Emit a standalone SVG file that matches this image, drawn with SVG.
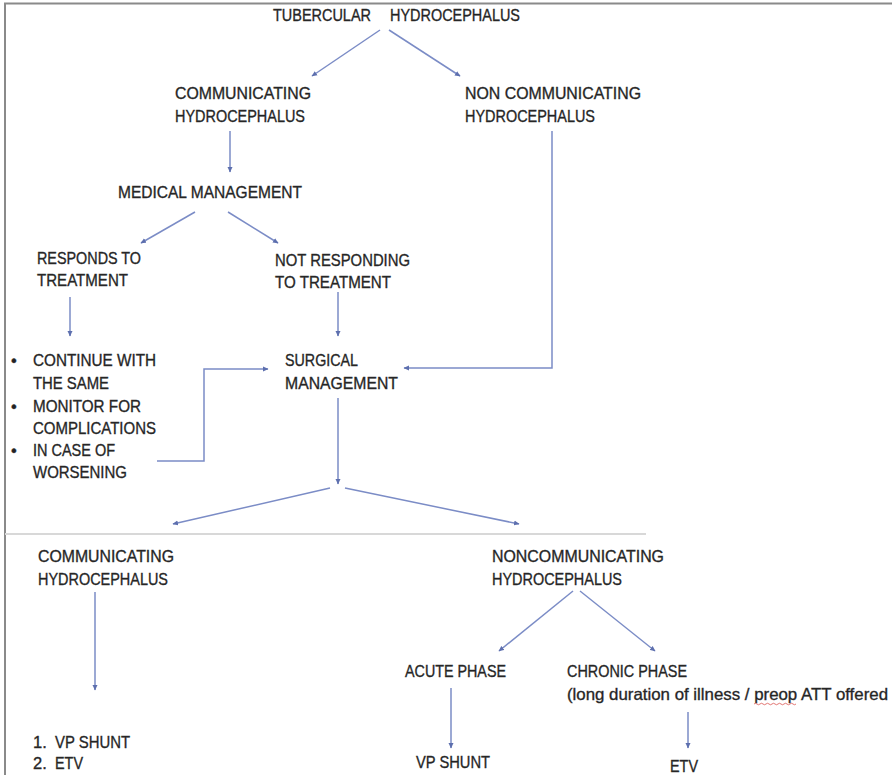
<svg xmlns="http://www.w3.org/2000/svg" width="892" height="775" viewBox="0 0 892 775">
<defs>
<style>
text{font-family:"Liberation Sans",Arial,sans-serif;font-size:16.5px;fill:#222222;stroke:#333333;stroke-width:0.35;}
.c{fill:none;stroke:#7b8cc6;stroke-width:1.5;}
.frame{fill:none;stroke:#8a8a8a;stroke-width:2;}
.rule{stroke:#d8d8d8;stroke-width:2;}
</style>
<marker id="ah" markerWidth="6" markerHeight="6" refX="5" refY="3" orient="auto" markerUnits="userSpaceOnUse">
<path d="M0,0.5 L5.5,3 L0,5.5 z" fill="#5d6fae"/>
</marker>
</defs>
<rect width="892" height="775" fill="#ffffff"/>
<path class="frame" d="M5,775 L5,3.5 L892,3.5"/>
<line class="rule" x1="5" y1="534" x2="646" y2="534"/>

<g id="connectors">
<path class="c" d="M380,30 L312,76" marker-end="url(#ah)"/>
<path class="c" d="M389,30 L460,76" marker-end="url(#ah)"/>
<path class="c" d="M230,131 L230,172" marker-end="url(#ah)"/>
<path class="c" d="M552,131 L552,368 L404,368" marker-end="url(#ah)"/>
<path class="c" d="M195,212 L141,243" marker-end="url(#ah)"/>
<path class="c" d="M228,212 L278,243" marker-end="url(#ah)"/>
<path class="c" d="M70,297 L70,336" marker-end="url(#ah)"/>
<path class="c" d="M338,292 L338,336" marker-end="url(#ah)"/>
<path class="c" d="M157,461 L204,461 L204,369 L268,369" marker-end="url(#ah)"/>
<path class="c" d="M338,398 L338,484" marker-end="url(#ah)"/>
<path class="c" d="M330,488 L173,524" marker-end="url(#ah)"/>
<path class="c" d="M345,488 L519,524" marker-end="url(#ah)"/>
<path class="c" d="M95,592 L95,690" marker-end="url(#ah)"/>
<path class="c" d="M573,591 L499,651" marker-end="url(#ah)"/>
<path class="c" d="M580,591 L655,651" marker-end="url(#ah)"/>
<path class="c" d="M451,688 L451,748" marker-end="url(#ah)"/>
<path class="c" d="M688,712 L688,748" marker-end="url(#ah)"/>
</g>

<g id="n-title">
<text x="273" y="21" textLength="98" lengthAdjust="spacingAndGlyphs">TUBERCULAR</text>
<text x="390" y="21" textLength="130" lengthAdjust="spacingAndGlyphs">HYDROCEPHALUS</text>
</g>
<g id="n-comm">
<text x="175" y="99" textLength="136" lengthAdjust="spacingAndGlyphs">COMMUNICATING</text>
<text x="175" y="122" textLength="130" lengthAdjust="spacingAndGlyphs">HYDROCEPHALUS</text>
</g>
<g id="n-noncomm">
<text x="465" y="99" textLength="176" lengthAdjust="spacingAndGlyphs">NON COMMUNICATING</text>
<text x="465" y="122" textLength="130" lengthAdjust="spacingAndGlyphs">HYDROCEPHALUS</text>
</g>
<g id="n-medical">
<text x="118" y="198" textLength="184" lengthAdjust="spacingAndGlyphs">MEDICAL MANAGEMENT</text>
</g>
<g id="n-responds">
<text x="37" y="264" textLength="104" lengthAdjust="spacingAndGlyphs">RESPONDS TO</text>
<text x="37" y="286" textLength="91" lengthAdjust="spacingAndGlyphs">TREATMENT</text>
</g>
<g id="n-notresp">
<text x="275" y="266" textLength="135" lengthAdjust="spacingAndGlyphs">NOT RESPONDING</text>
<text x="275" y="288" textLength="116" lengthAdjust="spacingAndGlyphs">TO TREATMENT</text>
</g>
<g id="n-continue">
<text x="11" y="366">•</text>
<text x="33" y="366" textLength="123" lengthAdjust="spacingAndGlyphs">CONTINUE WITH</text>
<text x="33" y="389" textLength="76" lengthAdjust="spacingAndGlyphs">THE SAME</text>
<text x="11" y="412">•</text>
<text x="33" y="412" textLength="108" lengthAdjust="spacingAndGlyphs">MONITOR FOR</text>
<text x="33" y="434" textLength="123" lengthAdjust="spacingAndGlyphs">COMPLICATIONS</text>
<text x="11" y="456">•</text>
<text x="33" y="456" textLength="82" lengthAdjust="spacingAndGlyphs">IN CASE OF</text>
<text x="33" y="478" textLength="94" lengthAdjust="spacingAndGlyphs">WORSENING</text>
</g>
<g id="n-surgical">
<text x="285" y="366" textLength="73" lengthAdjust="spacingAndGlyphs">SURGICAL</text>
<text x="285" y="389" textLength="113" lengthAdjust="spacingAndGlyphs">MANAGEMENT</text>
</g>
<g id="n-comm2">
<text x="38" y="562" textLength="136" lengthAdjust="spacingAndGlyphs">COMMUNICATING</text>
<text x="38" y="585" textLength="130" lengthAdjust="spacingAndGlyphs">HYDROCEPHALUS</text>
</g>
<g id="n-noncomm2">
<text x="492" y="562" textLength="172" lengthAdjust="spacingAndGlyphs">NONCOMMUNICATING</text>
<text x="492" y="585" textLength="130" lengthAdjust="spacingAndGlyphs">HYDROCEPHALUS</text>
</g>
<g id="n-acute">
<text x="405" y="677" textLength="101" lengthAdjust="spacingAndGlyphs">ACUTE PHASE</text>
</g>
<g id="n-chronic">
<text x="567" y="677" textLength="120" lengthAdjust="spacingAndGlyphs">CHRONIC PHASE</text>
<text x="567" y="700" textLength="321" lengthAdjust="spacingAndGlyphs">(long duration of illness / preop ATT offered</text>
<path d="M754,704 q1.5,-1.5 3,0 t3,0 t3,0 t3,0 t3,0 t3,0 t3,0 t3,0 t3,0 t3,0 t3,0 t3,0 t3,0 t3,0" fill="none" stroke="#d9534f" stroke-width="0.8"/>
</g>
<g id="n-list">
<text x="33" y="748">1.</text>
<text x="55" y="748" textLength="75" lengthAdjust="spacingAndGlyphs">VP SHUNT</text>
<text x="33" y="769">2.</text>
<text x="55" y="769" textLength="28" lengthAdjust="spacingAndGlyphs">ETV</text>
</g>
<g id="n-vpshunt">
<text x="416" y="768" textLength="74" lengthAdjust="spacingAndGlyphs">VP SHUNT</text>
</g>
<g id="n-etv">
<text x="670" y="772" textLength="28" lengthAdjust="spacingAndGlyphs">ETV</text>
</g>
</svg>
